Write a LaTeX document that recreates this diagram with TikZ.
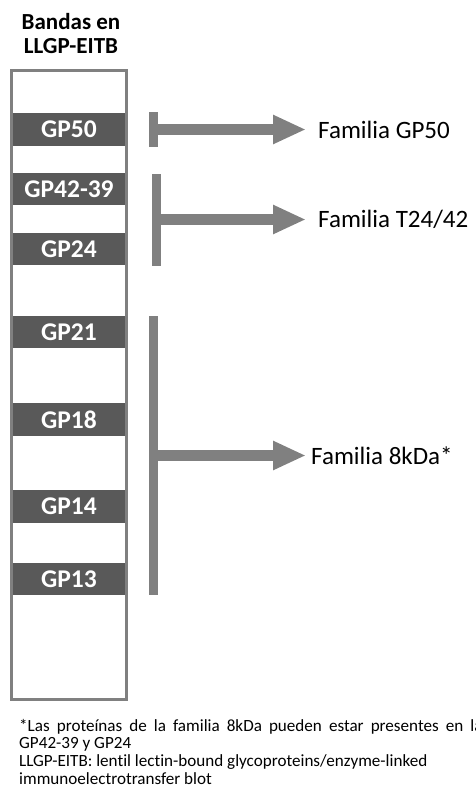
\documentclass[tikz,border=0pt]{standalone}
\usepackage{fontspec}
\setmainfont{Carlito}[Ligatures=NoCommon]
\usetikzlibrary{arrows.meta}
\definecolor{bandgray}{HTML}{595959}
\definecolor{linegray}{HTML}{808080}
\begin{document}
\begin{tikzpicture}[x=1pt,y=-1pt]
\tikzstyle{band}=[fill=bandgray,minimum width=112pt,minimum height=32.5pt,inner sep=0pt,text=white,font=\bfseries\fontsize{25.5}{27}\selectfont]
\tikzstyle{bar}=[fill=linegray,minimum width=9pt,inner sep=0pt]
\tikzstyle{famarrow}=[draw=linegray,line width=11.5pt,-{Triangle[length=33pt,width=27pt]}]
\tikzstyle{fam}=[anchor=west,inner sep=0pt,font=\fontsize{25}{28}\selectfont]
\useasboundingbox (0,0) rectangle (475,796);
\node[align=center,inner sep=0pt,anchor=base,font=\bfseries\fontsize{23}{24}\selectfont] (title) at (71,53) {Bandas en\\LLGP-EITB};
% bands of the blot
\node[band] at (69,129.5) (gp50) {GP50};
\node[band] at (69,189) (gp4239) {GP42-39};
\node[band] at (69,249) (gp24) {GP24};
\node[band] at (69,332) (gp21) {GP21};
\node[band] at (69,419.5) (gp18) {GP18};
\node[band] at (69,506.5) (gp14) {GP14};
\node[band] at (69,579) (gp13) {GP13};
\node[draw=linegray,line width=3pt,minimum width=115pt,minimum height=628.5pt,inner sep=0pt] at (69,384.75) (lane) {};
% families
\node[bar,minimum height=35pt] at (153.8,129.5) (bar50) {};
\node[bar,minimum height=92pt] at (156.5,219.5) (bar42) {};
\node[bar,minimum height=279pt] at (153.8,455.5) (bar8) {};
\node[fam] at (318,129.5) (fam50) {Familia GP50};
\node[fam] at (318,219.5) (fam42) {Familia T24/42};
\node[fam] at (311,455.5) (fam8) {Familia 8kDa*};
\draw[famarrow,shorten >=12pt] (bar50.center) -- (fam50.west);
\draw[famarrow,shorten >=12pt] (bar42.center) -- (fam42.west);
\draw[famarrow,shorten >=5pt] (bar8.center) -- (fam8.west);
\node[anchor=base west,inner sep=0pt] at (19,731) (note) {\parbox[t]{480pt}{\fontsize{17.1}{17.7}\selectfont\raggedright
\makebox[470pt][s]{*Las proteínas de la familia 8kDa pueden estar presentes en las}\\
GP42-39 y GP24\\
LLGP-EITB: lentil lectin-bound glycoproteins/enzyme-linked\\
immunoelectrotransfer blot}};
\end{tikzpicture}
\end{document}
